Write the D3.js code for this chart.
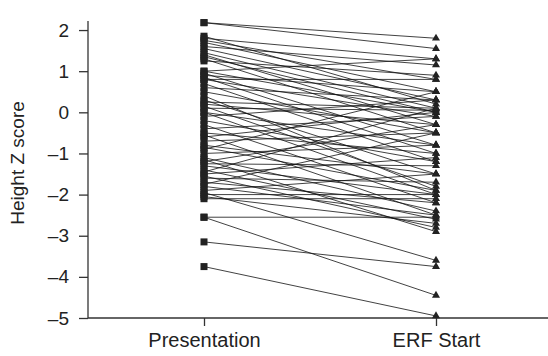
<!DOCTYPE html>
<html>
<head>
<meta charset="utf-8">
<script src="https://cdn.jsdelivr.net/npm/d3@7"></script>
<style>
  body { margin: 0; background: #fff; }
  text { font-family: "Liberation Sans", Arial, sans-serif; fill: #222; }
</style>
</head>
<body>
<svg width="548" height="356"></svg>
<script>
// time points on the x axis
var timePoints = ["Presentation", "ERF Start"];
var yTickValues = [-5, -4, -3, -2, -1, 0, 1, 2];

// height z score per patient, same order in both arrays
var presentation = [2.18, 2.18, 1.85, 1.8, 1.75, 1.7, 1.6, 1.55, 1.45, 1.4, 1.35, 1.3, 1.25,
  1.0, 1.0, 0.95, 0.9, 0.85, 0.8, 0.8, 0.7, 0.6, 0.5, 0.4, 0.3, 0.25, 0.2, 0.15, 0.1,
  0.0, 0.0, -0.1, -0.2, -0.3, -0.4, -0.5, -0.55, -0.6, -0.7, -0.8, -0.85, -0.9, -1.0,
  -1.1, -1.15, -1.2, -1.25, -1.3, -1.4, -1.45, -1.5, -1.55, -1.6, -1.7, -1.75, -1.8,
  -1.9, -1.95, -2.0, -2.05, -2.1, -2.55, -2.55, -3.15, -3.75];
var erfStart = [1.8, 1.55, 0.2, 1.3, 0.8, 0.5, 1.15, 0.3, 0.1, -0.3, 0.0, -0.5, 0.9,
  1.3, 0.0, -0.8, 0.5, -1.0, 0.8, -0.1, -1.2, 0.3, -0.5, -1.9, -1.5, 0.1, -0.3, -1.8, 0.05,
  -2.0, -0.8, 0.3, -1.2, -2.2, -0.1, -1.0, -2.5, 0.0, -0.5, -1.5, -1.9, 0.5, -0.8,
  -2.4, -2.9, -0.3, -1.3, -2.0, -2.6, 0.1, -1.1, -2.8, -1.7, -2.2, -0.5, -2.5,
  -1.5, -3.6, -2.0, -2.7, -2.1, -2.55, -4.45, -3.75, -4.95];

var svg = d3.select("svg");

var xScale = d3.scalePoint().domain(timePoints).range([88, 552]).padding(0.5);
var yScale = d3.scaleLinear().domain([-5, 2.22]).range([318, 21]);

// connecting lines
svg.append("g")
  .selectAll("line")
  .data(presentation)
  .enter()
  .append("line")
  .attr("x1", xScale(timePoints[0]))
  .attr("y1", function (d) { return yScale(d); })
  .attr("x2", xScale(timePoints[1]))
  .attr("y2", function (d, i) { return yScale(erfStart[i]); })
  .attr("stroke", "#111")
  .attr("stroke-width", 0.8);

// axes
var yAxis = d3.axisLeft(yScale).tickValues(yTickValues).tickSize(9).tickPadding(10)
  .tickFormat(function (d) { return d < 0 ? "\u2013" + Math.abs(d) : d; });
var gy = svg.append("g").attr("transform", "translate(88,0)").call(yAxis);
gy.select(".domain").attr("d", "M0,21V318");
gy.selectAll("text").style("font-size", "19px");

var xAxis = d3.axisBottom(xScale).tickSize(8).tickPadding(7);
var gx = svg.append("g").attr("transform", "translate(0,318)").call(xAxis);
gx.select(".domain").attr("d", "M88,0H548");
gx.selectAll("text").style("font-size", "20px");

svg.selectAll(".domain, .tick line").attr("stroke", "#333").attr("stroke-width", 1.3);

// markers
svg.append("g")
  .selectAll("rect")
  .data(presentation)
  .enter()
  .append("rect")
  .attr("x", xScale(timePoints[0]) - 3.5)
  .attr("y", function (d) { return yScale(d) - 3.5; })
  .attr("width", 7)
  .attr("height", 7)
  .attr("fill", "#222");

var tri = d3.symbol().type(d3.symbolTriangle).size(28);
svg.append("g")
  .selectAll("path")
  .data(erfStart)
  .enter()
  .append("path")
  .attr("d", tri)
  .attr("transform", function (d) {
    return "translate(" + xScale(timePoints[1]) + "," + yScale(d) + ")";
  })
  .attr("fill", "#222");

svg.append("text")
  .attr("transform", "translate(24,163) rotate(-90)")
  .attr("text-anchor", "middle")
  .style("font-size", "19px")
  .text("Height Z score");
</script>
</body>
</html>
